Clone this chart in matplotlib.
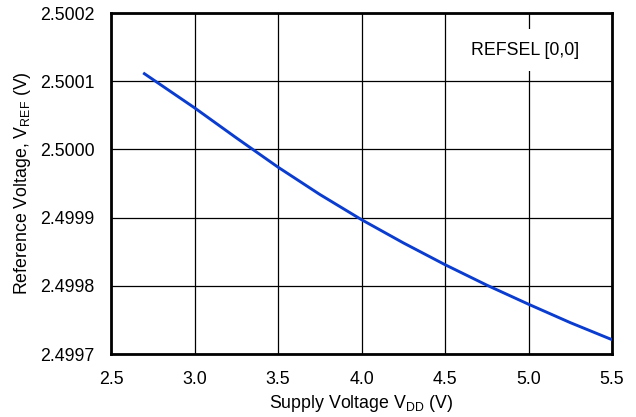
import matplotlib
matplotlib.use("Agg")
import matplotlib.pyplot as plt

# 读图数据
vdd = [2.7, 3.0, 3.25, 3.5, 3.75, 4.0, 4.25, 4.5, 4.75, 5.0, 5.25, 5.5]
vref = [2.500111, 2.500061, 2.500017, 2.499974, 2.499934, 2.499897,
        2.499863, 2.499831, 2.499801, 2.499773, 2.499746, 2.499721]
x_ticks = [2.5, 3.0, 3.5, 4.0, 4.5, 5.0, 5.5]
y_ticks = [2.4997, 2.4998, 2.4999, 2.5000, 2.5001, 2.5002]

plt.rcParams["font.family"] = ["Liberation Sans", "DejaVu Sans"]
plt.rcParams["mathtext.fontset"] = "custom"
plt.rcParams["mathtext.rm"] = "Liberation Sans"

fig = plt.figure(figsize=(6.36, 4.17), dpi=100)
ax = fig.add_axes([111 / 636, 1 - 354 / 417, 501 / 636, 341 / 417])

ax.plot(vdd, vref, color="#0a3cd0", lw=2.1, zorder=3)

ax.set_xlim(2.5, 5.5)
ax.set_ylim(2.4997, 2.5002)
ax.set_xticks(x_ticks)
ax.set_yticks(y_ticks)
ax.set_xticklabels([f"{v:.1f}" for v in x_ticks])
ax.set_yticklabels([f"{v:.4f}" for v in y_ticks])
ax.tick_params(length=0, labelsize=12.8, pad=12)
ax.grid(True, color="black", lw=0.9)
for s in ax.spines.values():
    s.set_linewidth(2)

ax.set_xlabel(r"Supply Voltage V$_\mathregular{DD}$ (V)", fontsize=12.8, labelpad=4)
ax.set_ylabel(r"Reference Voltage, V$_\mathregular{REF}$ (V)", fontsize=12.8, labelpad=5)

ax.text(0.826, 0.891, "REFSEL [0,0]", transform=ax.transAxes, ha="center", va="center",
        fontsize=12.8, bbox=dict(facecolor="white", edgecolor="none", pad=9), zorder=4)

fig.savefig("out.png", dpi=100)
